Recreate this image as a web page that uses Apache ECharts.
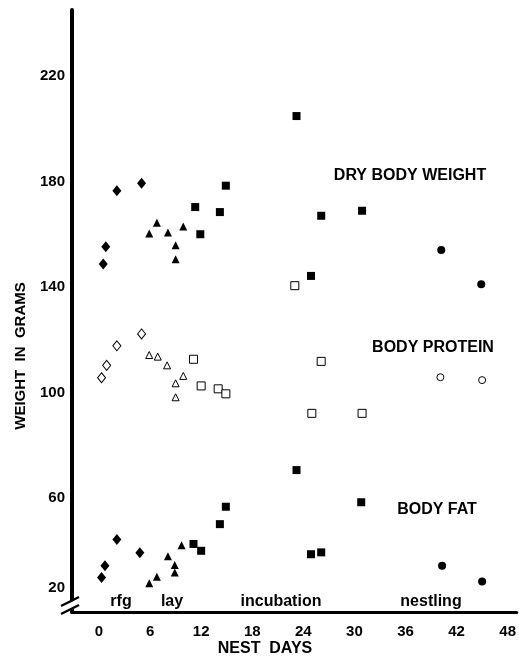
<!DOCTYPE html>
<html>
<head>
    <meta charset="utf-8">
    <title>Body composition by nest day</title>
    <script src="https://cdn.jsdelivr.net/npm/echarts@6/dist/echarts.min.js"></script>
    <style>
        html, body { margin: 0; padding: 0; background: #fff; }
    </style>
</head>
<body>
    <div id="chart" style="width: 519px;height:658px;"></div>
    <script type="text/javascript">
        // tick labels
        var xTicks = [0, 6, 12, 18, 24, 30, 36, 42, 48];
        var yTicks = [20, 60, 100, 140, 180, 220];

        // dry body weight [nest day, grams]
        var dryRfg = [[0.5, 148.7], [0.8, 155.3], [2.1, 176.5], [5.0, 179.3]];
        var dryLay = [[5.9, 160.3], [6.8, 164.4], [8.1, 160.7], [9.0, 155.8], [9.0, 150.5], [9.9, 162.9]];
        var dryInc = [[11.3, 170.3], [11.9, 160.0], [14.2, 168.4], [14.9, 178.4], [23.2, 204.8], [24.9, 144.2], [26.1, 167.0], [30.9, 168.9]];
        var dryNest = [[40.2, 154.0], [44.9, 141.0]];

        // body protein
        var protRfg = [[0.3, 105.6], [0.9, 110.3], [2.1, 117.7], [5.0, 122.2]];
        var protLay = [[5.9, 114.2], [6.9, 113.6], [8.0, 110.3], [9.0, 103.5], [9.9, 106.3], [9.0, 98.2]];
        var protInc = [[11.1, 112.6], [12.0, 102.5], [14.0, 101.4], [14.9, 99.5], [23.0, 140.5], [25.0, 92.1], [26.1, 111.8], [30.9, 92.1]];
        var protNest = [[40.1, 105.8], [45.0, 104.7]];

        // body fat
        var fatRfg = [[0.3, 29.9], [0.7, 34.3], [2.1, 44.3], [4.8, 39.3]];
        var fatLay = [[5.9, 27.7], [6.8, 30.2], [8.1, 37.9], [8.9, 34.6], [8.9, 31.8], [9.7, 42.1]];
        var fatInc = [[11.1, 42.6], [12.0, 40.0], [14.2, 50.1], [14.9, 56.7], [23.2, 70.6], [24.9, 38.7], [26.1, 39.4], [30.8, 58.4]];
        var fatNest = [[40.3, 34.3], [45.0, 28.4]];

        var ink = '#000';
        var font = '"Liberation Sans", Arial, sans-serif';

        function dots(name, data, symbol, size, open) {
            return {
                name: name,
                type: 'scatter',
                data: data,
                symbol: symbol,
                symbolSize: size,
                itemStyle: open
                    ? { color: '#fff', borderColor: ink, borderWidth: 1, opacity: 1 }
                    : { color: ink, opacity: 1 },
                z: 3
            };
        }

        function label(text, x, y, size) {
            return {
                type: 'text', x: x, y: y,
                style: {
                    text: text, fill: ink, font: 'bold ' + size + 'px ' + font,
                    align: 'center', verticalAlign: 'middle'
                }
            };
        }

        var chart = echarts.init(document.getElementById('chart'));
        var option = {
            backgroundColor: '#fff',
            animation: false,
            grid: { left: 72, right: 2, top: 10, bottom: 46 },
            xAxis: {
                type: 'value',
                min: -3.17,
                max: 49.06,
                splitLine: { show: false },
                axisTick: { show: false },
                axisLine: { onZero: false, lineStyle: { color: ink, width: 3 } },
                axisLabel: {
                    customValues: xTicks,
                    margin: 12,
                    color: ink,
                    fontSize: 15,
                    fontWeight: 'bold',
                    fontFamily: font
                }
            },
            yAxis: {
                type: 'value',
                min: 16.8,
                max: 245,
                splitLine: { show: false },
                axisTick: { show: false },
                axisLine: { onZero: false, lineStyle: { color: ink, width: 4 } },
                axisLabel: {
                    customValues: yTicks,
                    margin: 7,
                    color: ink,
                    fontSize: 15,
                    fontWeight: 'bold',
                    fontFamily: font,
                    formatter: function (v) {
                        return v === 20 ? '{lo|20}' : String(v);
                    },
                    rich: {
                        lo: {
                            fontSize: 15, fontWeight: 'bold', fontFamily: font,
                            color: ink, padding: [0, 0, 32, 0]
                        }
                    }
                }
            },
            graphic: [
                // axis break
                { type: 'polygon', shape: { points: [[60, 607], [82, 597], [82, 605], [60, 615]] },
                  style: { fill: '#fff' }, z: 10 },
                { type: 'line', shape: { x1: 61, y1: 606, x2: 79, y2: 597 },
                  style: { stroke: ink, lineWidth: 2.5 }, z: 11 },
                { type: 'line', shape: { x1: 61, y1: 614, x2: 79, y2: 605 },
                  style: { stroke: ink, lineWidth: 2.5 }, z: 11 },
                label('DRY BODY WEIGHT', 410, 176, 16),
                label('BODY PROTEIN', 433, 348, 16),
                label('BODY FAT', 437, 510, 16),
                label('rfg', 121, 602, 16),
                label('lay', 172, 602, 16),
                label('incubation', 281, 602, 16),
                label('nestling', 431, 602, 16),
                label('NEST  DAYS', 265, 649, 16),
                {
                    type: 'text', x: 21, y: 356, rotation: Math.PI / 2,
                    style: {
                        text: 'WEIGHT  IN  GRAMS', fill: ink, font: 'bold 15px ' + font,
                        align: 'center', verticalAlign: 'middle'
                    }
                }
            ],
            series: [
                dots('Dry weight rfg', dryRfg, 'diamond', [9, 11], false),
                dots('Dry weight lay', dryLay, 'triangle', 8, false),
                dots('Dry weight incubation', dryInc, 'rect', 8, false),
                dots('Dry weight nestling', dryNest, 'circle', 8, false),
                dots('Protein rfg', protRfg, 'diamond', [8, 10], true),
                dots('Protein lay', protLay, 'triangle', 7, true),
                dots('Protein incubation', protInc, 'rect', 8, true),
                dots('Protein nestling', protNest, 'circle', 7, true),
                dots('Fat rfg', fatRfg, 'diamond', [9, 11], false),
                dots('Fat lay', fatLay, 'triangle', 8, false),
                dots('Fat incubation', fatInc, 'rect', 8, false),
                dots('Fat nestling', fatNest, 'circle', 8, false)
            ]
        };
        chart.setOption(option);
    </script>
</body>
</html>
